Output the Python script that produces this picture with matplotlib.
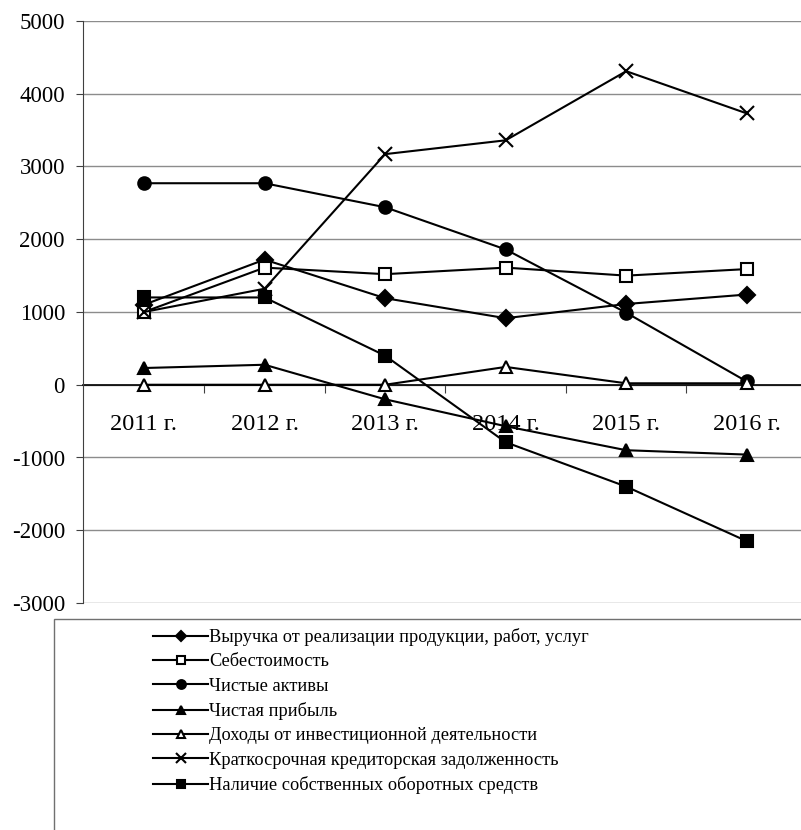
import matplotlib
matplotlib.use('Agg')
import matplotlib.pyplot as plt
from matplotlib.patches import Rectangle

# chart data
years = ['2011 г.', '2012 г.', '2013 г.', '2014 г.', '2015 г.', '2016 г.']
revenue = [1100, 1720, 1190, 915, 1110, 1240]
cost = [1000, 1610, 1520, 1610, 1500, 1590]
net_assets = [2770, 2770, 2440, 1860, 990, 45]
net_profit = [230, 275, -200, -570, -900, -960]
invest_income = [0, 0, 0, 245, 20, 20]
short_debt = [1000, 1320, 3170, 3360, 4310, 3730]
own_funds = [1200, 1200, 400, -790, -1400, -2150]

labels = ['Выручка от реализации продукции, работ, услуг',
          'Себестоимость',
          'Чистые активы',
          'Чистая прибыль',
          'Доходы от инвестиционной деятельности',
          'Краткосрочная кредиторская задолженность',
          'Наличие собственных оборотных средств']

plt.rcParams['font.family'] = ['Liberation Serif', 'DejaVu Serif']
plt.rcParams['axes.unicode_minus'] = False

W, H = 801, 830
fig = plt.figure(figsize=(W / 100, H / 100), dpi=100)
ax = fig.add_axes([83 / W, 1 - 603 / H, (W - 83) / W, (603 - 21) / H])

x = list(range(len(years)))
styles = [
    (revenue, dict(marker='D', ms=8, mfc='black')),
    (cost, dict(marker='s', ms=9, mfc='white')),
    (net_assets, dict(marker='o', ms=9, mfc='black')),
    (net_profit, dict(marker='^', ms=9, mfc='black')),
    (invest_income, dict(marker='^', ms=9, mfc='white')),
    (short_debt, dict(marker='x', ms=10, mew=1.5)),
    (own_funds, dict(marker='s', ms=9, mfc='black')),
]
handles = []
for (vals, st), lab in zip(styles, labels):
    h, = ax.plot(x, vals, color='black', lw=1.5, mec='black', mew=st.pop('mew', 1.5),
                 label=lab, zorder=3, **st)
    handles.append(h)

ax.set_xlim(-0.506, 5.45)
ax.set_ylim(-3000, 5000)
ax.set_yticks(range(-3000, 5001, 1000))
ax.grid(axis='y', color='#8c8c8c', lw=1)
ax.set_axisbelow(True)

for side in ['top', 'right']:
    ax.spines[side].set_visible(False)
ax.spines['left'].set_color('#404040')
ax.spines['bottom'].set_position(('data', 0))
ax.spines['bottom'].set_color('black')
ax.spines['bottom'].set_linewidth(1.2)
ax.spines['bottom'].set_zorder(2)

# boundaries get tick marks, categories get labels
ax.set_xticks([i + 0.5 for i in range(5)])
ax.set_xticklabels([])
ax.tick_params(axis='x', which='major', length=6, direction='out', color='#404040')
ax.set_xticks(x, minor=True)
ax.set_xticklabels(years, minor=True)
ax.tick_params(axis='x', which='minor', length=0, pad=21, labelsize=17.5)
ax.tick_params(axis='y', length=5, pad=8, labelsize=16.5, color='#404040')

# legend box
fig.patches.append(Rectangle((54 / W, -0.05), 1.0, 1 - 619 / H + 0.05,
                             transform=fig.transFigure, fill=False,
                             edgecolor='#707070', lw=1))
fig.legend(handles=handles, loc='upper left', bbox_to_anchor=(153 / W, 1 - 628 / H),
           frameon=False, fontsize=13.2, handlelength=3.0, handletextpad=0.08,
           labelspacing=0.40, borderaxespad=0, borderpad=0, markerscale=0.7)

fig.savefig('out.png', dpi=100)
